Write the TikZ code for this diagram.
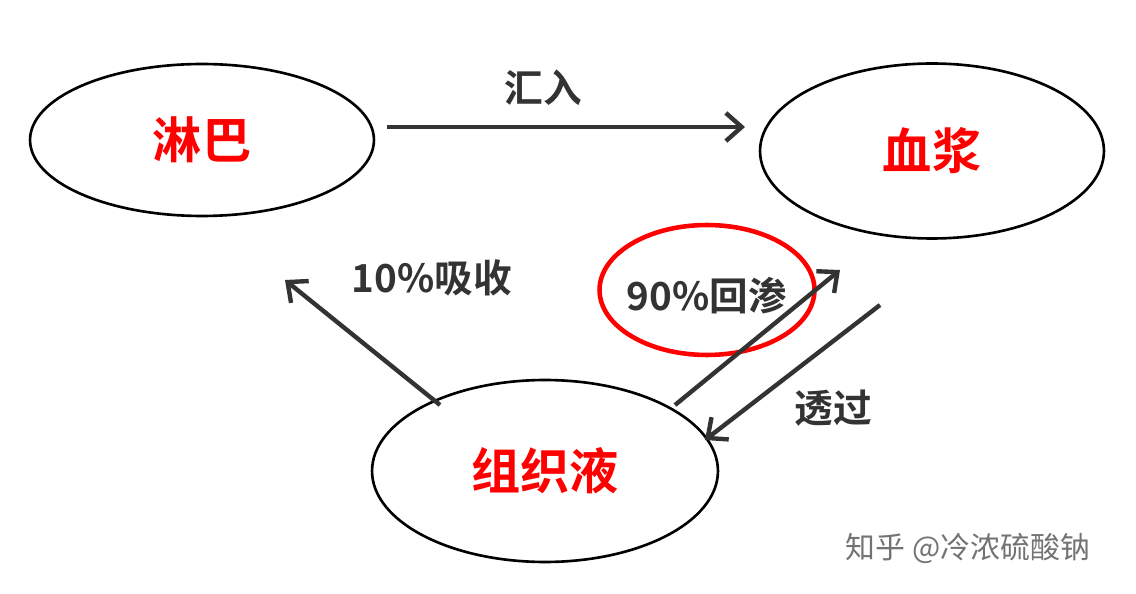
\documentclass[tikz,border=0pt]{standalone}
\usepackage{fontspec}
\usetikzlibrary{shapes.geometric,arrows.meta}
\newfontfamily\cjk{Noto Sans CJK SC}
\newfontfamily\cjkb{Noto Sans CJK SC Bold}
\tikzset{fluid/.style={draw,ellipse,line width=1.5pt,font=\cjkb\fontsize{28}{32}\selectfont,text=red}}
\tikzset{flow/.style={-{Straight Barb[length=9pt,width=16pt]},line width=2.5pt,black!80}}
\tikzset{flowtext/.style={font=\cjkb\fontsize{22}{26}\selectfont,text=black!80}}
\begin{document}
\begin{tikzpicture}[x=0.02cm,y=-0.02cm]
            % canvas
            \useasboundingbox (0,0) rectangle (1136,594);
            % the three fluids
            \node[fluid,minimum width=6.88cm,minimum height=3.04cm] (lymph) at (202,140) {淋巴};
            \node[fluid,minimum width=6.88cm,minimum height=3.5cm] (plasma) at (932,151) {血浆};
            \node[fluid,minimum width=6.92cm,minimum height=3.64cm] (tissue) at (545,471) {组织液};
            % highlight
            \node[draw=red,ellipse,line width=2.6pt,minimum width=4.3cm,minimum height=2.6cm] (mark) at (707,290) {};
            % arrow ends
            \coordinate (a1) at (387,127);
            \coordinate (a2) at (745,127);
            \coordinate (b1) at (440,405);
            \coordinate (b2) at (285,280);
            \coordinate (c1) at (675,405);
            \coordinate (c2) at (840,270);
            \coordinate (d1) at (880,305);
            \coordinate (d2) at (705,440);
            \draw[flow] (a1) -- (a2);
            \draw[flow] (b1) -- (b2);
            \draw[flow] (c1) -- (c2);
            \draw[flow] (d1) -- (d2);
            % labels
            \node[flowtext] (t1) at (543,88) {汇入};
            \node[flowtext] (t2) at (432,278) {10\%吸收};
            \node[flowtext] (t3) at (707,296) {90\%回渗};
            \node[flowtext] (t4) at (833,408) {透过};
            \node[font=\cjk\fontsize{17}{20}\selectfont,text=black!55] (wm) at (968,548) {知乎 @冷浓硫酸钠};
        \end{tikzpicture}
\end{document}
